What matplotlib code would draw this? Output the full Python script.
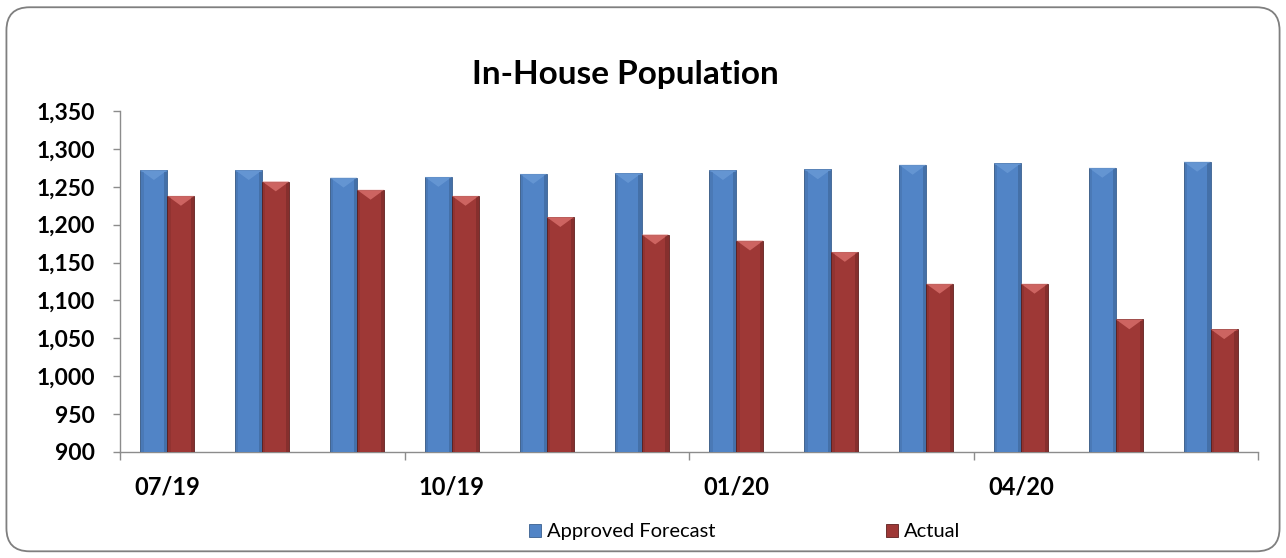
import numpy as np
import matplotlib.pyplot as plt
from matplotlib.patches import FancyBboxPatch, Polygon
from matplotlib.ticker import FuncFormatter, FixedLocator

plt.rcParams['font.family'] = ['Lato', 'DejaVu Sans']

months = ["07/19", "08/19", "09/19", "10/19", "11/19", "12/19",
          "01/20", "02/20", "03/20", "04/20", "05/20", "06/20"]
forecast = [1272, 1272, 1262, 1263, 1267, 1268, 1272, 1273, 1279, 1281, 1275, 1283]
actual = [1238, 1257, 1246, 1238, 1210, 1187, 1179, 1164, 1122, 1122, 1075, 1062]
shown_labels = ["07/19", "10/19", "01/20", "04/20"]

blue = "#5184C6"
red = "#9E3836"

fig = plt.figure(figsize=(12.86, 5.58), dpi=100)

# rounded chart border
frame = FancyBboxPatch((0.005, 0.012), 0.99, 0.975,
                       boxstyle="round,pad=0,rounding_size=0.018",
                       transform=fig.transFigure, facecolor="white",
                       edgecolor="#7f7f7f", linewidth=1.3, zorder=-5,
                       mutation_aspect=1286 / 558)
fig.patches.append(frame)

ax = fig.add_axes([0.0933, 0.19, 0.885, 0.611])
ax.set_facecolor("none")
ax.set_zorder(2)

x = np.arange(len(months))
w = 0.285
b1 = ax.bar(x - w / 2, np.array(forecast) - 900, w, bottom=900, color=blue,
            edgecolor="#3a5f8f", linewidth=0.6, label="Approved Forecast", zorder=3)
b2 = ax.bar(x + w / 2, np.array(actual) - 900, w, bottom=900, color=red,
            edgecolor="#5e1f1e", linewidth=0.6, label="Actual", zorder=3)

# bevelled caps on top of the bars
cap = 13
for bars, light in ((b1, "#6a9ad6"), (b2, "#d9706c")):
    for r in bars:
        x0, wd, top = r.get_x(), r.get_width(), r.get_y() + r.get_height()
        ax.add_patch(Polygon([(x0, top), (x0 + wd, top), (x0 + wd / 2, top - cap)],
                             closed=True, facecolor=light, edgecolor="none",
                             alpha=0.8, zorder=4))
        ax.add_patch(Polygon([(x0, top - 2), (x0 + wd * 0.12, top - 2), (x0 + wd * 0.12, 900),
                              (x0, 900)], closed=True, facecolor="black",
                             alpha=0.08, edgecolor="none", zorder=4))
        ax.add_patch(Polygon([(x0 + wd * 0.88, top - 2), (x0 + wd, top - 2), (x0 + wd, 900),
                              (x0 + wd * 0.88, 900)], closed=True, facecolor="black",
                             alpha=0.15, edgecolor="none", zorder=4))

ax.set_xlim(-0.5, len(months) - 0.5)
ax.set_ylim(900, 1350)
ax.set_yticks(np.arange(900, 1351, 50))
ax.yaxis.set_major_formatter(FuncFormatter(lambda v, p: f"{int(v):,}"))
for t in ax.get_yticklabels():
    t.set_fontweight("bold")
ax.tick_params(axis="y", labelsize=16.5, length=5, width=1, color="#8c8c8c", pad=13)

# month labels every quarter, ticks on the group boundaries
ax.xaxis.set_major_locator(FixedLocator(np.arange(-0.5, len(months), 3)))
ax.xaxis.set_minor_locator(FixedLocator([months.index(m) for m in shown_labels]))
ax.set_xticklabels([], minor=False)
ax.set_xticklabels(shown_labels, minor=True, fontweight="bold", fontsize=17)
ax.tick_params(axis="x", which="major", length=6, width=1, color="#8c8c8c")
ax.tick_params(axis="x", which="minor", length=0, pad=17)

for s in ("top", "right"):
    ax.spines[s].set_visible(False)
for s in ("left", "bottom"):
    ax.spines[s].set_color("#8c8c8c")
    ax.spines[s].set_linewidth(1)

fig.text(0.486, 0.866, "In-House Population", ha="center", va="center",
         fontsize=24, fontweight="bold")

fig.legend(handles=[b1, b2], loc="center", bbox_to_anchor=(0.579, 0.047), ncol=2,
           frameon=False, fontsize=14.5, handlelength=0.6, handleheight=0.6,
           handletextpad=0.3, columnspacing=8.45)

fig.savefig("out.png", dpi=100)
